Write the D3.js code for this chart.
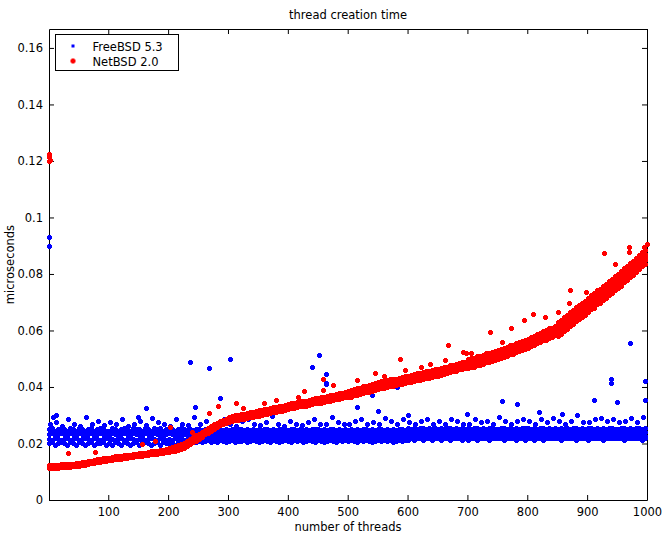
<!DOCTYPE html>
<html>
<head>
<meta charset="utf-8">
<script src="https://cdn.jsdelivr.net/npm/d3@7"></script>
<style>
  body { margin: 0; background: #fff; }
  svg { display: block; font-family: "DejaVu Sans", sans-serif; font-size: 11.5px; }
</style>
</head>
<body>
<svg id="chart" width="668" height="536"></svg>
<script>
// all series values are in units of 1e-4 microseconds
const UNIT = 1e-4;
const threads = d3.range(1, 1001, 5);
const threadsLate = d3.range(501, 1001, 5);
const threadsSparse = d3.range(3, 1001, 10);

// FreeBSD 5.3: several runs, sampled every 5 threads
const freebsdA = [
  200,204,196,200,204,200,196,204,200,196, 204,200,196,200,204,196,200,200,204,196,
  200,196,204,200,196,204,200,196,200,204, 196,200,204,200,196,200,204,196,204,200,
  200,204,196,204,200,200,204,205,209,205, 209,205,209,213,205,209,205,213,209,205,
  209,213,205,209,209,213,205,209,213,209, 205,209,213,209,205,213,209,205,209,213,
  209,205,213,209,213,205,209,213,209,205, 213,209,205,209,213,209,205,213,209,213,
  209,213,209,205,213,209,213,209,205,209, 213,209,213,209,213,205,209,213,209,213,
  214,218,214,221,218,214,218,221,214,218, 218,214,221,218,214,218,221,218,214,221,
  214,218,221,214,218,218,221,214,218,221, 218,221,214,218,221,218,214,221,218,214,
  221,218,214,218,221,214,218,221,218,221, 218,214,221,218,218,221,214,218,221,218,
  214,221,218,221,218,214,221,218,221,218, 221,218,214,221,218,221,218,221,214,221
];
const freebsdB = [
  216,212,220,216,212,216,220,212,216,220, 212,216,220,216,212,220,216,212,216,220,
  220,216,212,216,220,212,216,220,216,212, 216,220,212,216,220,216,212,220,216,212,
  216,212,220,216,220,212,216,220,224,220, 224,220,224,220,224,224,220,224,220,224,
  220,224,224,220,224,220,220,224,224,220, 224,220,224,224,220,224,220,224,220,224,
  220,224,220,224,224,220,224,220,224,220, 224,224,220,224,220,224,220,224,224,220,
  220,224,224,220,224,220,224,224,220,224, 224,220,224,220,224,224,220,224,220,224,
  226,229,226,229,229,226,229,226,229,226, 229,226,229,226,226,229,226,229,226,229,
  226,229,229,226,229,226,229,226,229,229, 229,226,229,229,226,229,226,229,226,229,
  226,229,226,229,229,226,229,229,226,229, 229,226,229,226,229,229,226,229,229,226,
  226,229,229,226,229,226,229,229,226,229, 229,226,229,229,226,229,226,229,229,226
];
const freebsdC = [
  232,236,228,232,236,232,228,236,232,228, 236,232,228,232,236,228,232,236,232,228,
  228,236,232,228,232,236,232,228,236,232, 232,228,236,232,228,236,232,236,228,232,
  236,232,228,232,236,232,234,238,234,238, 238,234,238,234,238,238,234,238,234,238,
  234,238,234,238,238,234,238,234,238,234, 238,234,238,238,234,238,234,238,238,234,
  234,238,238,234,238,234,238,234,238,238, 238,234,238,234,238,238,234,238,234,238,
  234,238,234,238,234,238,238,234,238,234, 238,238,234,238,234,238,234,238,238,234,
  240,236,240,236,240,240,236,240,236,240, 236,240,236,240,240,236,240,236,240,236,
  240,236,240,240,236,240,236,240,240,236, 236,240,240,236,240,236,240,236,240,240,
  240,236,240,236,240,240,236,240,236,240, 236,240,236,240,236,240,240,236,240,236,
  240,240,236,240,236,240,236,240,240,236, 236,240,240,236,240,236,240,240,236,240
];
const freebsdD = [
  250,256,244,250,256,250,244,256,250,244, 256,250,244,250,256,244,250,256,250,244,
  244,256,250,244,250,256,250,244,256,250, 250,244,256,250,244,256,250,256,244,250,
  256,250,244,250,256,250,248,252,248,252, 252,248,252,248,252,252,248,252,248,252,
  248,252,248,252,252,248,252,248,252,248, 252,248,252,252,248,252,248,252,252,248,
  248,252,252,248,252,248,252,248,252,252, 252,248,252,248,252,252,248,252,248,252,
  248,252,248,252,248,252,252,248,252,248, 252,252,248,252,248,252,248,252,252,248,
  254,250,254,250,254,254,250,254,250,254, 250,254,250,254,254,250,254,250,254,250,
  254,250,254,254,250,254,250,254,254,250, 250,254,254,250,254,250,254,250,254,254,
  254,250,254,250,254,254,250,254,250,254, 250,254,250,254,250,254,254,250,254,250,
  254,254,250,254,250,254,250,254,254,250, 250,254,254,250,254,250,254,254,250,254
];
// upper scatter, every 10 threads
const freebsdE = [
  268,275,262,285,268,262,295,270,278,265, 275,268,285,262,270,278,265,290,275,268,
  262,285,270,265,295,268,278,262,270,285, 270,262,278,285,268,265,275,298,270,262,
  278,268,265,275,285,270,268,295,275,268, 268,278,285,270,275,268,290,278,270,285,
  275,268,278,285,270,278,268,285,278,270, 270,285,275,278,268,295,278,270,278,285,
  278,270,285,275,290,278,270,278,300,275, 275,285,290,278,285,275,278,290,275,295
];
const freebsdOutliers = [
  [1,930],[1,900],[12,300],[8,295],[163,325],[150,295],[236,490],[304,498],[268,466],
  [286,360],[245,330],[452,513],[440,470],[463,445],[463,415],[463,410],[540,370],
  [583,400],[515,330],[550,314],[600,300],[700,305],[820,310],[972,555],[940,430],
  [940,415],[996,420],[996,353],[757,350],[782,340],[911,353],[950,346],[858,305]
];

// NetBSD 2.0: three runs every 5 threads, two more from thread 501 on
const netbsdA = [
  118,119,118,120,121,121,123,122,124,126, 127,129,130,133,134,136,139,141,142,144,
  145,147,149,150,151,153,155,156,157,159, 160,161,163,165,167,168,169,171,173,174,
  176,179,183,185,189,194,199,206,213,219, 226,232,241,247,253,261,267,273,276,281,
  285,287,291,293,295,297,300,301,303,306, 308,311,312,314,317,320,321,323,325,328,
  330,333,334,337,340,341,343,345,348,351, 352,354,357,360,361,364,367,368,370,373,
  375,378,382,384,386,390,393,395,399,402, 405,408,409,412,415,417,418,421,424,427,
  428,430,434,436,437,441,443,444,448,451, 452,456,458,460,465,467,469,474,476,478,
  482,486,488,493,495,498,503,505,507,512, 515,520,522,527,532,534,539,544,546,552,
  555,561,564,571,574,581,584,591,594,601, 605,613,623,630,640,647,657,664,674,681,
  690,700,706,717,723,734,740,751,757,768, 776,784,795,803,814,822,833,841,852,860
];
const netbsdB = [
  113,114,114,115,116,117,118,118,119,121, 122,124,125,128,130,131,134,136,137,139,
  140,142,144,145,146,148,150,151,153,154, 155,156,158,160,162,163,164,166,168,169,
  170,172,175,177,181,185,190,197,204,210, 217,223,232,238,245,252,259,265,269,274,
  276,278,282,284,286,288,291,292,294,297, 299,302,303,305,308,311,312,314,316,319,
  321,324,325,328,331,332,334,336,339,342, 343,345,348,351,352,355,358,359,361,364,
  363,366,370,372,374,378,381,383,387,390, 393,396,397,400,403,405,406,409,412,415,
  416,418,422,424,425,429,431,432,436,439, 440,444,446,448,453,455,457,462,464,466,
  466,470,472,477,479,482,487,489,491,496, 499,504,506,511,516,518,523,528,530,536,
  539,545,548,555,558,565,568,575,578,585, 580,588,598,605,615,622,632,639,649,656,
  665,675,681,692,698,709,715,726,732,743, 751,759,770,778,789,797,808,816,827,835
];
const netbsdC = [
  123,124,123,125,126,127,128,127,129,131, 132,134,135,138,139,141,144,146,147,149,
  150,152,154,155,156,158,160,161,162,164, 165,166,168,170,172,173,174,176,178,179,
  183,187,191,194,198,203,209,216,223,229, 235,241,249,255,261,268,274,280,283,288,
  294,296,300,302,304,306,309,310,312,315, 317,320,321,323,326,329,330,332,334,337,
  339,342,343,346,349,350,352,354,357,360, 361,363,366,369,370,373,376,377,379,382,
  387,390,394,396,398,402,405,407,411,414, 417,420,421,424,427,429,430,433,436,439,
  440,442,446,448,449,453,455,456,460,463, 464,468,470,472,477,479,481,486,488,490,
  498,502,504,509,511,514,519,521,523,528, 531,536,538,543,548,550,555,560,562,568,
  571,577,580,587,590,597,600,607,610,617, 630,638,648,655,665,672,682,689,699,706,
  715,725,731,742,748,759,765,776,782,793, 801,809,820,828,839,847,858,866,877,885
];
const netbsdD = [
  381,385,388,390,392,396,399,401,405,408, 411,414,415,418,421,423,424,427,430,433,
  434,436,440,442,443,447,449,450,454,457, 458,462,464,466,471,473,475,480,482,484,
  490,494,496,501,503,506,511,513,515,520, 523,528,530,535,540,542,547,552,554,560,
  563,569,572,579,582,589,592,599,602,609, 617,625,635,642,652,659,669,676,686,693,
  702,712,718,729,735,746,752,763,769,780, 788,796,807,815,826,834,845,853,864,872
];
const netbsdE = [
  369,372,376,378,380,384,387,389,393,396, 399,402,403,406,409,411,412,415,418,421,
  422,424,428,430,431,435,437,438,442,445, 446,450,452,454,459,461,463,468,470,472,
  474,478,480,485,487,490,495,497,499,504, 507,512,514,519,524,526,531,536,538,544,
  547,553,556,563,566,573,576,583,586,593, 593,601,611,618,628,635,645,652,662,669,
  678,688,694,705,711,722,728,739,745,756, 764,772,783,791,802,810,821,829,840,848
];
const netbsdOutliers = [
  [1,1225],[1,1215],[1,1200],[2,1203],[32,166],[78,170],[157,198],[178,209],[203,258],
  [240,240],[268,307],[283,332],[313,343],[325,325],[361,343],[380,353],[417,364],
  [427,385],[458,430],[458,390],[475,406],[515,424],[545,450],[560,438],[588,498],
  [596,460],[622,470],[637,480],[662,495],[668,548],[692,523],[697,520],[706,520],
  [737,593],[757,558],[772,610],[794,636],[810,660],[829,647],[852,665],[870,696],
  [872,745],[898,735],[929,873],[946,837],[970,876],[970,897],[995,895],[1000,905]
];

const xTicks = [100, 200, 300, 400, 500, 600, 700, 800, 900, 1000];
const yTicks = [0, 0.02, 0.04, 0.06, 0.08, 0.1, 0.12, 0.14, 0.16];

const width = 668;
const height = 536;
const margin = { top: 29, right: 21, bottom: 36, left: 49 };

const x = d3.scaleLinear().domain([1, 1000]).range([margin.left, width - margin.right]);
const y = d3.scaleLinear().domain([0, 0.1667]).range([height - margin.bottom, margin.top]);

const svg = d3.select('#chart');
svg.append('rect').attr('width', width).attr('height', height).attr('fill', '#fff');

const toPoints = (xs, vs) => vs.map((v, i) => ({ t: xs[i], v: v * UNIT }));
const pairs = (list) => list.map(([t, v]) => ({ t, v: v * UNIT }));

const freebsd = [
  ...toPoints(threads, freebsdA), ...toPoints(threads, freebsdB),
  ...toPoints(threads, freebsdC), ...toPoints(threads, freebsdD),
  ...toPoints(threadsSparse, freebsdE), ...pairs(freebsdOutliers),
];
const netbsd = [
  ...toPoints(threads, netbsdA), ...toPoints(threads, netbsdB),
  ...toPoints(threads, netbsdC), ...toPoints(threadsLate, netbsdD),
  ...toPoints(threadsLate, netbsdE), ...pairs(netbsdOutliers),
];

// axes: inward ticks on all four sides
const tick = 5;
svg.append('g')
  .attr('transform', `translate(0,${height - margin.bottom})`)
  .call(d3.axisBottom(x).tickValues(xTicks).tickSizeInner(-tick).tickSizeOuter(0).tickPadding(8)
    .tickFormat(d3.format('d')));
svg.append('g')
  .attr('transform', `translate(0,${margin.top})`)
  .call(d3.axisTop(x).tickValues(xTicks).tickSizeInner(-tick).tickSizeOuter(0).tickFormat(''));
svg.append('g')
  .attr('transform', `translate(${margin.left},0)`)
  .call(d3.axisLeft(y).tickValues(yTicks).tickSizeInner(-tick).tickSizeOuter(0).tickPadding(6)
    .tickFormat(d3.format('~g')));
svg.append('g')
  .attr('transform', `translate(${width - margin.right},0)`)
  .call(d3.axisRight(y).tickValues(yTicks).tickSizeInner(-tick).tickSizeOuter(0).tickFormat(''));

svg.selectAll('.tick text')
  .attr('fill', '#000')
  .style('font-family', '"DejaVu Sans", sans-serif')
  .style('font-size', '11.5px');
svg.selectAll('.domain, .tick line').attr('stroke', '#000');

// small rounded dot, like the matlab '.' marker
const dot = 'M-1.5,-2.5h3v1h1v3h-1v1h-3v-1h-1v-3h1z';
const place = (d) => `translate(${Math.round(x(d.t)) + 0.5},${Math.round(y(d.v)) + 0.5})`;

svg.append('g')
  .selectAll('path')
  .data(freebsd)
  .join('path')
  .attr('d', dot)
  .attr('transform', place)
  .attr('fill', '#0000ff');

svg.append('g')
  .selectAll('path')
  .data(netbsd)
  .join('path')
  .attr('d', dot)
  .attr('transform', place)
  .attr('fill', '#ff0000');

// labels
svg.append('text')
  .attr('x', 348)
  .attr('y', 18.5)
  .attr('text-anchor', 'middle')
  .text('thread creation time');
svg.append('text')
  .attr('x', 348)
  .attr('y', 531)
  .attr('text-anchor', 'middle')
  .text('number of threads');
svg.append('text')
  .attr('transform', `translate(14,${(margin.top + height - margin.bottom) / 2}) rotate(-90)`)
  .attr('text-anchor', 'middle')
  .text('microseconds');

// legend
const legend = svg.append('g').attr('transform', 'translate(55.5,34.5)');
legend.append('rect')
  .attr('width', 123)
  .attr('height', 36)
  .attr('fill', '#fff')
  .attr('stroke', '#000');
legend.append('rect')
  .attr('x', 16)
  .attr('y', 10)
  .attr('width', 3)
  .attr('height', 3)
  .attr('fill', '#0000ff');
legend.append('path')
  .attr('d', dot)
  .attr('transform', 'translate(17.5,26.5)')
  .attr('fill', '#ff0000');
legend.append('text').attr('x', 37).attr('y', 16).text('FreeBSD 5.3');
legend.append('text').attr('x', 37).attr('y', 31).text('NetBSD 2.0');
</script>
</body>
</html>
